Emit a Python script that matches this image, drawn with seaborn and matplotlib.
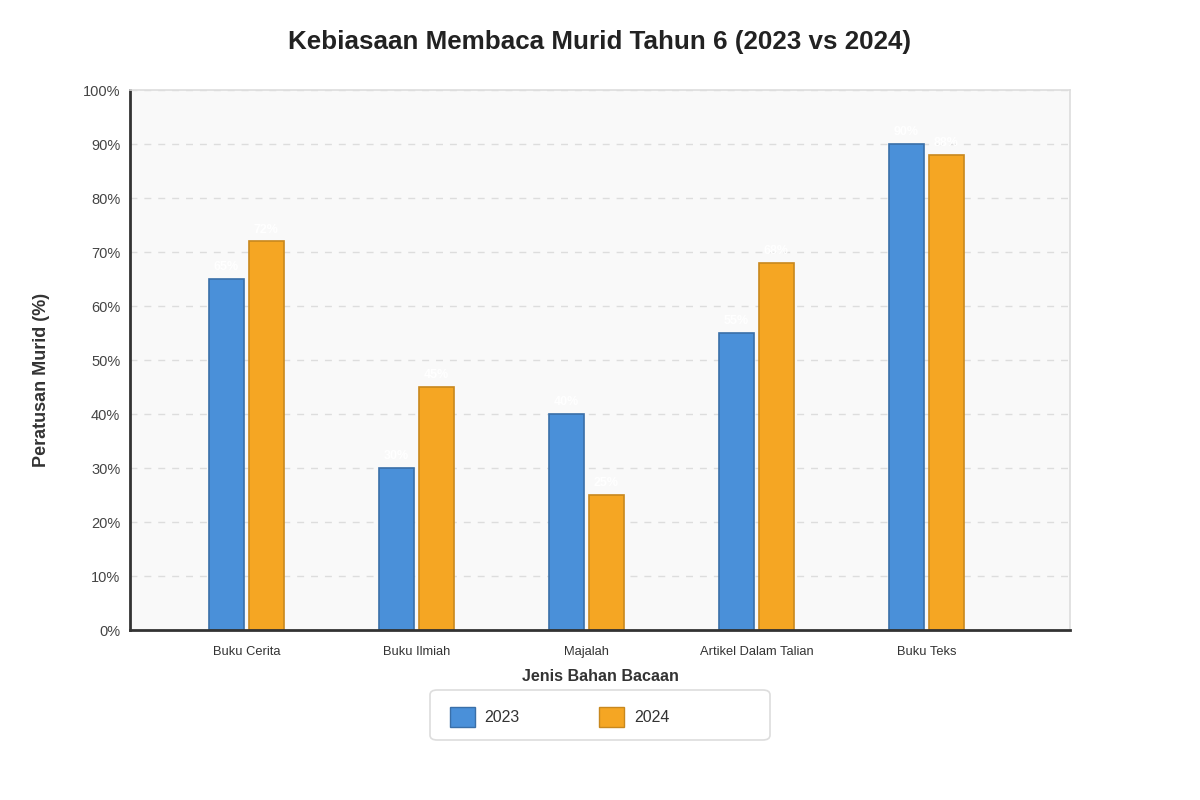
import pandas as pd
import matplotlib
matplotlib.use("Agg")
import matplotlib.pyplot as plt
import seaborn as sns
from matplotlib.ticker import FuncFormatter
from matplotlib.patches import FancyBboxPatch

# Data
categories = ["Buku Cerita", "Buku Ilmiah", "Majalah", "Artikel Dalam Talian", "Buku Teks"]
years = ["2023", "2024"]
values_2023 = [65, 30, 40, 55, 90]
values_2024 = [72, 45, 25, 68, 88]
colors = {"2023": "#4a90d9", "2024": "#f5a623"}
edges = {"2023": "#3a6fa8", "2024": "#c8881e"}

df = pd.DataFrame({
    "kategori": categories * 2,
    "tahun": ["2023"] * len(categories) + ["2024"] * len(categories),
    "nilai": values_2023 + values_2024,
})

sns.set_style("white")
plt.rcParams["font.family"] = ["Liberation Sans", "DejaVu Sans"]

W, H = 1200, 800
fig = plt.figure(figsize=(12, 8), dpi=100)
ax = fig.add_axes([130 / W, 170 / H, 940 / W, 540 / H])
ax.set_facecolor("#f9f9f9")

sns.barplot(data=df, x="kategori", y="nilai", hue="tahun", hue_order=years,
            palette=colors, width=0.47, gap=0.125, ax=ax, legend=False,
            linewidth=1.2, saturation=1)

for cont, yr in zip(ax.containers, years):
    for bar in cont:
        bar.set_edgecolor(edges[yr])
    ax.bar_label(cont, labels=[f"{v:.0f}%" for v in cont.datavalues],
                 padding=4, color="white", fontsize=9, fontweight="bold")

ax.set_ylim(0, 100)
ax.set_xlim(-0.685, 4.845)
ax.set_yticks(range(0, 101, 10))
ax.yaxis.set_major_formatter(FuncFormatter(lambda v, p: f"{v:.0f}%"))
ax.yaxis.grid(True, linestyle=(0, (5, 5)), color="#dddddd", linewidth=1)
ax.set_axisbelow(True)

for s in ["top", "right"]:
    ax.spines[s].set_color("#dddddd")
    ax.spines[s].set_linewidth(1.2)
for s in ["left", "bottom"]:
    ax.spines[s].set_color("#333333")
    ax.spines[s].set_linewidth(2)

ax.tick_params(axis="y", labelsize=10.5, labelcolor="#444444", length=0, pad=7)
ax.tick_params(axis="x", labelsize=9.3, labelcolor="#333333", length=0, pad=11.5)

ax.set_xlabel("Jenis Bahan Bacaan", fontsize=11.6, fontweight="bold", color="#333333", labelpad=8)
ax.set_ylabel("Peratusan Murid (%)", fontsize=13, fontweight="bold", color="#333333")
ax.yaxis.set_label_coords(-80 / 940, (630 - 380) / 540)

fig.text(0.5, 1 - 42 / H, "Kebiasaan Membaca Murid Tahun 6 (2023 vs 2024)",
         ha="center", va="center", fontsize=18.7, fontweight="bold", color="#222222")

# legend box
fig.patches.append(FancyBboxPatch((430 / W, 1 - 740 / H), 340 / W, 50 / H,
                                  boxstyle="round,pad=0,rounding_size=0.006",
                                  transform=fig.transFigure, facecolor="white",
                                  edgecolor="#dddddd", linewidth=1.2, zorder=0))

handles = [plt.Rectangle((0, 0), 1, 1, facecolor=colors[y], edgecolor=edges[y]) for y in years]
leg = fig.legend(handles, years, loc="center left", bbox_to_anchor=(450 / W, 1 - 717 / H),
                 ncol=2, frameon=False, fontsize=11.5, handlelength=1.55, handleheight=1.6,
                 columnspacing=5.0, handletextpad=0.6, borderpad=0, borderaxespad=0,
                 labelcolor="#333333")

fig.savefig("out.png", dpi=100, facecolor="white")
